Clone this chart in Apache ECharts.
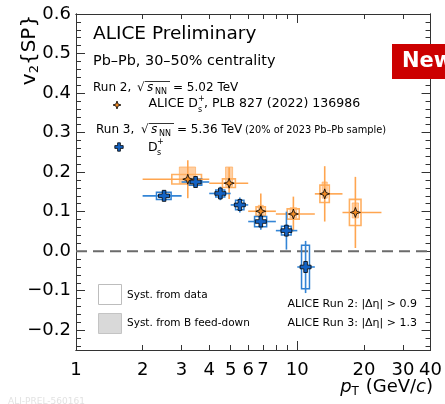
<!DOCTYPE html>
<html>
<head>
<meta charset="utf-8">
<script src="https://cdn.jsdelivr.net/npm/echarts@6/dist/echarts.min.js"></script>
<style>
  html, body { margin: 0; padding: 0; background: #fff; }
  #chart { width: 445px; height: 404px; }
</style>
</head>
<body>
<div id="chart"></div>
<script>
// Run 2 (5.02 TeV), ALICE D_s+, PLB 827 (2022) 136986
var ptR2 = [3.2, 4.92, 6.84, 9.6, 13.3, 18.3];
var ptLoR2 = [2, 4, 6, 8, 12, 16];
var ptHiR2 = [4, 6, 8, 12, 16, 24];
var v2R2 = [0.182, 0.172, 0.101, 0.094, 0.145, 0.098];
var statR2 = [0.048, 0.040, 0.045, 0.044, 0.070, 0.090];
var systR2 = [0.012, 0.011, 0.011, 0.013, 0.022, 0.033];
var fdUpR2 = [0.031, 0.041, 0.015, 0.016, 0.030, 0.024];
var fdDnR2 = [0.011, 0.008, 0.010, 0.010, 0.011, 0.014];
var boxHwR2 = [0.49, 0.33, 0.33, 0.60, 0.65, 1.10];

// Run 3 (5.36 TeV), D_s+
var ptR3 = [2.5, 3.47, 4.49, 5.5, 6.84, 8.93, 10.9];
var ptLoR3 = [2, 3, 4, 5, 6, 8, 10];
var ptHiR3 = [3, 4, 5, 6, 8, 10, 12];
var v2R3 = [0.140, 0.175, 0.146, 0.117, 0.075, 0.052, -0.040];
var statR3 = [0.014, 0.010, 0.017, 0.019, 0.021, 0.048, 0.066];
var systR3 = [0.009, 0.008, 0.009, 0.012, 0.013, 0.011, 0.055];
var boxHwR3 = [0.19, 0.23, 0.21, 0.24, 0.43, 0.45, 0.45];

// axes
var xLabels = [1, 2, 3, 4, 5, 6, 7, 10, 20, 30, 40];
var xTicks = [2, 3, 4, 5, 6, 7, 8, 9, 20, 30];
var xBigTicks = [10];
var yLabels = [-0.2, -0.1, 0, 0.1, 0.2, 0.3, 0.4, 0.5, 0.6];
var yMinor = [];
for (var k = -12; k <= 29; k++) {
    if (k % 5 != 0) yMinor.push(+(k * 0.02).toFixed(2));
}

var FONT = 'DejaVu Sans';
var cOrange = '#ffa54f', cOrangeBox = '#ffb062', cOrangeFill = 'rgba(255,175,100,0.6)';
var cBlue = '#3385d6', cBlueBox = '#2f7fd0';
var starPts = [[0, -10], [2.6, -2.6], [10, 0], [2.6, 2.6], [0, 10], [-2.6, 2.6], [-10, 0], [-2.6, -2.6]];
var crossPts = [[-3.3, -10], [3.3, -10], [3.3, -3.3], [10, -3.3], [10, 3.3], [3.3, 3.3], [3.3, 10], [-3.3, 10],
    [-3.3, 3.3], [-10, 3.3], [-10, -3.3], [-3.3, -3.3]];

function toPath(pts) {
    return 'path://' + pts.map(function (p, i) { return (i ? 'L' : 'M') + p[0] + ',' + p[1]; }).join(' ') + ' Z';
}
function placePts(pts, cx, cy, s) {
    return pts.map(function (p) { return [cx + p[0] * s, cy + p[1] * s]; });
}

function rows(cols) {
    var out = [];
    for (var i = 0; i < cols[0].length; i++) {
        out.push(cols.map(function (c) { return c[i]; }));
    }
    return out;
}

function boxRender(color, fill, wScale, lw) {
    return function (params, api) {
        var pt = api.value(0), v = api.value(1), hw = api.value(2) * wScale;
        var up = api.value(3), dn = api.value(4);
        var a = api.coord([pt - hw, v + up]);
        var b = api.coord([pt + hw, v - dn]);
        return {
            type: 'rect',
            shape: { x: a[0], y: a[1], width: b[0] - a[0], height: b[1] - a[1] },
            style: { fill: fill, stroke: color, lineWidth: lw }
        };
    };
}

function errRender(color) {
    return function (params, api) {
        var pt = api.value(0), v = api.value(1);
        var l = api.coord([api.value(2), v]), r = api.coord([api.value(3), v]);
        var t = api.coord([pt, v + api.value(4)]), bt = api.coord([pt, v - api.value(4)]);
        return {
            type: 'group',
            children: [
                { type: 'line', shape: { x1: l[0], y1: l[1], x2: r[0], y2: r[1] }, style: { stroke: color, lineWidth: 1.6 } },
                { type: 'line', shape: { x1: t[0], y1: t[1], x2: bt[0], y2: bt[1] }, style: { stroke: color, lineWidth: 1.6 } }
            ]
        };
    };
}

function xAx(pos, ticks, len, withLabels) {
    return {
        type: 'log', logBase: 10, min: 1, max: 40, position: pos,
        axisLine: { show: true, onZero: false, lineStyle: { color: '#333', width: 1 } },
        axisTick: { show: true, inside: true, length: len, customValues: ticks, lineStyle: { color: '#333', width: 1 } },
        axisLabel: withLabels ? {
            customValues: xLabels, margin: 11, color: '#000', fontFamily: FONT, fontSize: 18,
            formatter: function (v) { return String(Math.round(v)); }
        } : { show: false },
        splitLine: { show: false }
    };
}

function yAx(pos, ticks, len, withLabels) {
    return {
        type: 'value', min: -0.25, max: 0.6, position: pos,
        axisLine: { show: true, onZero: false, lineStyle: { color: '#333', width: 1 } },
        axisTick: { show: true, inside: true, length: len, customValues: ticks, lineStyle: { color: '#333', width: 1 } },
        axisLabel: withLabels ? {
            customValues: yLabels, margin: 5, color: '#000', fontFamily: FONT, fontSize: 18,
            formatter: function (v) {
                var s = (Math.abs(v) < 1e-9 ? 0 : v).toFixed(1);
                return s.replace('-', '\u2212');
            }
        } : { show: false },
        splitLine: { show: false }
    };
}

function txt(x, y, text, size, extra) {
    var st = { text: text, x: x, y: y, fontFamily: FONT, fontSize: size, fill: '#000', align: 'left', verticalAlign: 'middle' };
    for (var key in (extra || {})) st[key] = extra[key];
    return { type: 'text', z: 100, style: st };
}

var myChart = echarts.init(document.getElementById('chart'));

var option = {
    animation: false,
    backgroundColor: '#fff',
    grid: { left: 76, right: 10, top: 14, bottom: 54 },
    xAxis: [
        xAx('bottom', xTicks, 5, true),
        xAx('bottom', xBigTicks, 9, false),
        xAx('top', xTicks, 5, false),
        xAx('top', xBigTicks, 9, false)
    ],
    yAxis: [
        yAx('left', yLabels, 9, true),
        yAx('left', yMinor, 5, false),
        yAx('right', yLabels, 9, false),
        yAx('right', yMinor, 5, false)
    ],
    series: [
        {
            type: 'line', data: [[1, 0], [40, 0]], symbol: 'none', silent: true,
            lineStyle: { color: '#6b6b6b', width: 2, type: [11, 6] }, z: 1
        },
        {
            type: 'custom', renderItem: boxRender('rgba(255,165,80,0.6)', cOrangeFill, 0.55, 1),
            data: rows([ptR2, v2R2, boxHwR2, fdUpR2, fdDnR2]), encode: { x: 0, y: 1 }, z: 2
        },
        {
            type: 'custom', renderItem: boxRender(cOrangeBox, 'none', 1, 1.6),
            data: rows([ptR2, v2R2, boxHwR2, systR2, systR2]), encode: { x: 0, y: 1 }, z: 3
        },
        {
            type: 'custom', renderItem: boxRender(cBlueBox, 'none', 1, 1.5),
            data: rows([ptR3, v2R3, boxHwR3, systR3, systR3]), encode: { x: 0, y: 1 }, z: 3
        },
        {
            type: 'custom', renderItem: errRender(cOrange),
            data: rows([ptR2, v2R2, ptLoR2, ptHiR2, statR2]), encode: { x: 0, y: 1 }, z: 4
        },
        {
            type: 'custom', renderItem: errRender(cBlue),
            data: rows([ptR3, v2R3, ptLoR3, ptHiR3, statR3]), encode: { x: 0, y: 1 }, z: 4
        },
        {
            type: 'scatter', data: rows([ptR2, v2R2]), symbol: toPath(starPts), symbolSize: 10,
            itemStyle: { color: '#f08a24', borderColor: '#000', borderWidth: 0.8, opacity: 1 }, z: 5
        },
        {
            type: 'scatter', data: rows([ptR3, v2R3]), symbol: toPath(crossPts), symbolSize: 11,
            itemStyle: { color: '#1463c4', borderColor: '#000', borderWidth: 0.8, opacity: 1 }, z: 6
        }
    ],
    graphic: [
        // y title
        {
            type: 'text', x: 30, y: 50, rotation: Math.PI / 2, z: 100,
            style: {
                text: '{a|v}{s|2}{SP}', align: 'center', verticalAlign: 'middle',
                fontFamily: FONT, fontSize: 20, fill: '#000',
                rich: {
                    a: { fontFamily: FONT, fontSize: 20, fill: '#000' },
                    s: { fontFamily: FONT, fontSize: 13, fill: '#000', verticalAlign: 'bottom', padding: [9, 0, 0, 0] }
                }
            }
        },
        // x title
        {
            type: 'text', x: 433, y: 387, z: 100,
            style: {
                text: '{i|p}{s|T}{a| (GeV/}{i|c}{a|)}', align: 'right', verticalAlign: 'middle',
                rich: {
                    a: { fontFamily: FONT, fontSize: 18, fill: '#000' },
                    i: { fontFamily: FONT, fontSize: 18, fontStyle: 'italic', fill: '#000' },
                    s: { fontFamily: FONT, fontSize: 12, fill: '#000', verticalAlign: 'bottom', padding: [10, 1, 0, 0] }
                }
            }
        },
        txt(93, 34, 'ALICE Preliminary', 18.5),
        txt(93, 61, 'Pb\u2013Pb, 30\u201350% centrality', 14.4),
        // Run 2 header
        txt(93, 88, 'Run 2,', 12),
        txt(137, 88, '\u221A', 12),
        { type: 'line', z: 100, shape: { x1: 145, y1: 81.5, x2: 170, y2: 81.5 }, style: { stroke: '#000', lineWidth: 0.8 } },
        txt(147, 88, 's', 12, { fontStyle: 'italic' }),
        txt(155, 92, 'NN', 8),
        txt(173, 88, '= 5.02 TeV', 12),
        // Run 2 entry
        { type: 'polygon', z: 100, shape: { points: placePts(starPts, 117, 105, 0.4) }, style: { fill: '#f08a24', stroke: '#000', lineWidth: 0.8 } },
        txt(198, 104, 'ALICE D', 12.5, { align: 'right' }),
        txt(198, 99, '+', 8),
        txt(198, 110, 's', 8),
        txt(204, 104, ', PLB 827 (2022) 136986', 12.5),
        // Run 3 header
        txt(96, 130, 'Run 3,', 12),
        txt(141, 130, '\u221A', 12),
        { type: 'line', z: 100, shape: { x1: 149, y1: 123.5, x2: 174, y2: 123.5 }, style: { stroke: '#000', lineWidth: 0.8 } },
        txt(151, 130, 's', 12, { fontStyle: 'italic' }),
        txt(159, 134, 'NN', 8),
        txt(177, 130, '= 5.36 TeV', 12),
        txt(245, 130, '(20% of 2023 Pb\u2013Pb sample)', 9.8),
        // Run 3 entry
        { type: 'polygon', z: 100, shape: { points: placePts(crossPts, 119, 147, 0.42) }, style: { fill: '#1463c4', stroke: '#000', lineWidth: 0.8 } },
        txt(148, 148, 'D', 12.5),
        txt(157, 142, '+', 8),
        txt(157, 153, 's', 8),
        // syst legend
        { type: 'rect', z: 100, shape: { x: 98.5, y: 284.5, width: 23, height: 20 }, style: { fill: '#fff', stroke: '#bdbdbd', lineWidth: 1 } },
        { type: 'rect', z: 100, shape: { x: 98.5, y: 313.5, width: 23, height: 20 }, style: { fill: '#d9d9d9', stroke: '#c4c4c4', lineWidth: 1 } },
        txt(127, 295, 'Syst. from data', 10.5),
        txt(127, 323, 'Syst. from B feed-down', 10.5),
        txt(417, 304, 'ALICE Run 2: |\u0394\u03B7| > 0.9', 11, { align: 'right' }),
        txt(417, 323, 'ALICE Run 3: |\u0394\u03B7| > 1.3', 11, { align: 'right' }),
        // "New" banner
        { type: 'rect', z: 110, shape: { x: 392, y: 44, width: 60, height: 35 }, style: { fill: '#cc0000' } },
        { type: 'text', z: 111, style: { text: 'New', x: 402, y: 62, fontFamily: FONT, fontWeight: 'bold', fontSize: 21, fill: '#fff', verticalAlign: 'middle' } },
        // faint plot id
        txt(8, 402, 'ALI-PREL-560161', 9, { fill: '#e2e2e2' })
    ]
};

myChart.setOption(option);
</script>
</body>
</html>
